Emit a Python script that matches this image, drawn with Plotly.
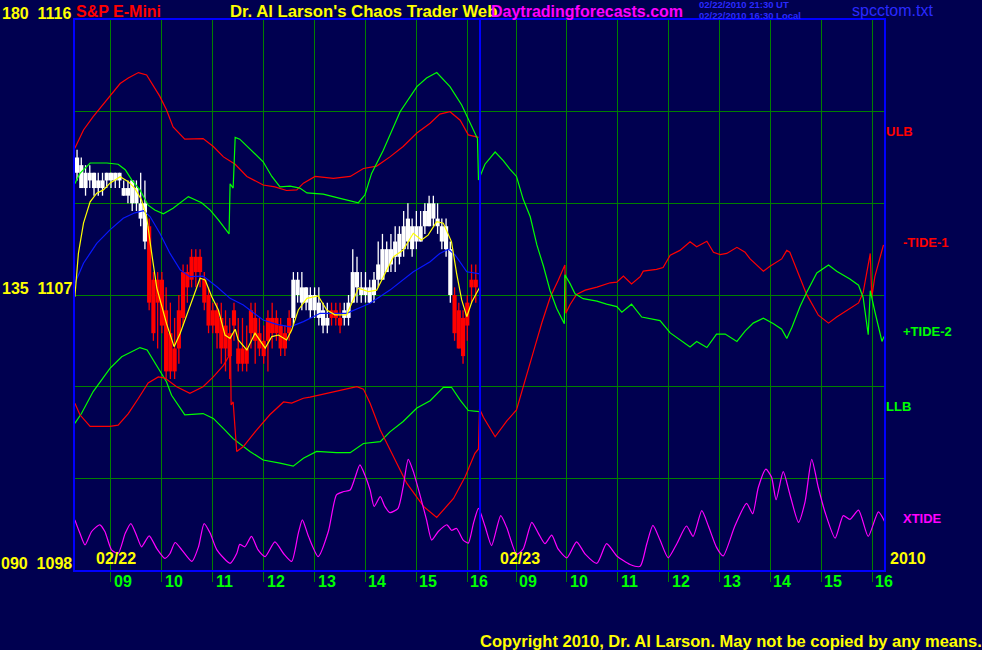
import plotly.graph_objects as go

# ---------------- axes / layout constants ----------------
DAY2_OFFSET = 7.957          # display offset of day-2 clock hours
SESSION_END = 16.25          # day-1 session end (blue separator)
X_RANGE = [8.293, 24.187]
PRICE_RANGE = [1098, 1116]
OSC_RANGE = [90, 180]
HOURS = [9, 10, 11, 12, 13, 14, 15, 16]
HOUR_LABELS = ["09", "10", "11", "12", "13", "14", "15", "16"]
PRICE_GRID = [1101, 1104, 1107, 1110, 1113]
LEFT_LABELS = [(180, "180  1116"), (135, "135  1107"), (90, "090  1098")]

# ---------------- price bars (5 minute, day 1) ----------------
BAR_START = 8 + 20 / 60
BAR_MINUTES = 5
OPEN = [1111.0, 1110.5, 1110.5, 1110.75, 1110.5, 1110.5, 1110.5, 1110.75, 1110.75, 1110.75,
        1110.75, 1110.25, 1110.25, 1110.0, 1110.0, 1109.5, 1108.75, 1109.25, 1107.5, 1107.5,
        1107.5, 1106.5, 1105.75, 1105.25, 1106.5, 1107.75, 1107.75, 1108.25, 1108.25, 1108.25,
        1107.5, 1107.0, 1106.5, 1106.5, 1106.25, 1106.0, 1105.75, 1106.5, 1105.25, 1105.25,
        1105.25, 1106.5, 1106.25, 1105.75, 1105.5, 1106.25, 1106.25, 1106.25, 1106.0, 1105.75,
        1106.25, 1106.25, 1107.0, 1106.75, 1106.75, 1106.5, 1106.5, 1106.25, 1106.0, 1106.0,
        1106.5, 1106.5, 1106.25, 1106.25, 1106.25, 1106.75, 1107.25, 1107.0, 1107.0, 1106.75,
        1107.0, 1107.5, 1107.5, 1107.75, 1108.0, 1108.25, 1108.25, 1108.5, 1108.75, 1108.5,
        1108.75, 1108.75, 1109.25, 1109.25, 1109.5, 1109.25, 1108.75, 1108.5, 1107.0, 1107.0,
        1106.5, 1106.25, 1106.75, 1107.5, 1107.5]
HIGH = [1111.75, 1111.5, 1111.25, 1111.25, 1111.0, 1111.0, 1111.0, 1111.0, 1111.0, 1111.0,
        1111.0, 1110.75, 1110.75, 1110.75, 1110.75, 1111.0, 1110.75, 1109.5, 1107.75, 1107.75,
        1107.75, 1107.25, 1106.75, 1106.25, 1107.0, 1108.0, 1108.0, 1108.5, 1108.5, 1108.5,
        1107.75, 1107.25, 1106.75, 1106.75, 1106.75, 1106.5, 1106.25, 1106.75, 1106.25, 1106.25,
        1106.0, 1106.75, 1106.75, 1106.25, 1106.0, 1106.5, 1106.75, 1106.5, 1106.25, 1106.0,
        1106.5, 1107.75, 1107.75, 1107.75, 1107.25, 1107.25, 1107.25, 1107.25, 1106.75, 1106.75,
        1106.75, 1106.75, 1106.75, 1106.75, 1107.0, 1108.5, 1108.25, 1107.75, 1107.75, 1107.5,
        1107.75, 1108.75, 1109.0, 1108.75, 1109.0, 1109.25, 1109.25, 1109.75, 1110.0, 1109.5,
        1109.75, 1109.75, 1110.0, 1110.25, 1110.25, 1110.0, 1109.5, 1109.5, 1108.75, 1107.25,
        1106.75, 1106.5, 1107.0, 1108.0, 1108.0]
LOW = [1110.75, 1110.5, 1110.25, 1110.5, 1110.25, 1110.25, 1110.25, 1110.5, 1110.5, 1110.5,
       1110.5, 1110.25, 1110.0, 1109.75, 1109.75, 1109.25, 1108.5, 1106.5, 1105.5, 1105.25,
       1105.75, 1104.25, 1104.25, 1104.25, 1104.75, 1106.0, 1106.75, 1107.25, 1107.25, 1107.25,
       1106.5, 1105.75, 1105.75, 1105.25, 1104.75, 1104.5, 1104.25, 1105.5, 1104.5, 1104.5,
       1104.5, 1105.25, 1104.75, 1105.0, 1104.75, 1104.5, 1105.25, 1105.5, 1105.0, 1105.0,
       1105.5, 1106.0, 1106.75, 1106.5, 1106.5, 1106.25, 1106.25, 1106.0, 1105.75, 1105.75,
       1106.0, 1106.0, 1105.75, 1106.0, 1106.0, 1106.75, 1106.75, 1106.75, 1106.75, 1106.75,
       1106.75, 1107.25, 1107.5, 1107.75, 1107.75, 1107.75, 1108.0, 1108.25, 1108.5, 1108.25,
       1108.5, 1108.75, 1109.0, 1109.25, 1109.25, 1109.0, 1108.5, 1108.25, 1106.75, 1105.5,
       1105.25, 1104.75, 1105.5, 1106.75, 1106.75]
CLOSE = [1111.5, 1111.25, 1111.0, 1111.0, 1111.0, 1110.75, 1110.75, 1111.0, 1111.0, 1111.0,
         1111.0, 1110.5, 1110.5, 1110.75, 1110.5, 1110.0, 1110.0, 1106.75, 1105.75, 1106.75,
         1106.0, 1104.5, 1104.5, 1104.5, 1105.25, 1106.25, 1107.25, 1107.5, 1107.75, 1107.75,
         1106.75, 1106.0, 1106.0, 1105.75, 1105.25, 1105.25, 1105.0, 1106.0, 1104.75, 1104.75,
         1104.75, 1105.75, 1105.5, 1105.25, 1105.0, 1105.5, 1105.75, 1105.75, 1105.25, 1105.25,
         1105.75, 1107.5, 1107.5, 1107.25, 1107.25, 1107.0, 1107.0, 1106.75, 1106.5, 1106.25,
         1106.25, 1106.25, 1106.0, 1106.5, 1106.75, 1107.75, 1107.75, 1107.25, 1107.25, 1107.25,
         1107.5, 1108.0, 1108.5, 1108.5, 1108.5, 1108.75, 1109.0, 1109.25, 1109.5, 1109.25,
         1109.25, 1109.25, 1109.75, 1110.0, 1110.0, 1109.5, 1109.25, 1109.25, 1108.5, 1105.75,
         1105.25, 1105.0, 1106.0, 1107.25, 1107.25]

# ---------------- averages (price units, day 1) ----------------
BLUE_T = [8.29, 8.46, 8.72, 8.98, 9.24, 9.47, 9.64, 9.77, 9.96, 10.16, 10.36, 10.55, 10.81, 11.08,
          11.34, 11.60, 11.99, 12.26, 12.52, 12.78, 13.11, 13.63, 14.09, 14.48, 14.94, 15.27,
          15.46, 15.63, 15.76, 15.99, 16.25]
BLUE_V = [1107.38, 1108.04, 1108.69, 1109.13, 1109.51, 1109.69, 1109.76, 1109.56, 1109.02,
          1108.36, 1107.82, 1107.60, 1107.62, 1107.27, 1106.89, 1106.67, 1106.18, 1106.04,
          1105.96, 1106.13, 1106.40, 1106.40, 1106.73, 1107.16, 1107.76, 1108.09, 1108.36,
          1108.50, 1108.31, 1107.76, 1107.69]
YELLOW_T = [8.29, 8.36, 8.46, 8.59, 8.72, 8.85, 8.98, 9.18, 9.34, 9.47, 9.60, 9.70, 9.80, 9.90,
            10.09, 10.24, 10.36, 10.55, 10.75, 10.85, 10.98, 11.11, 11.24, 11.34, 11.44, 11.50,
            11.67, 11.83, 12.03, 12.16, 12.29, 12.45, 12.55, 12.68, 12.85, 13.07, 13.24, 13.40,
            13.63, 13.86, 14.06, 14.22, 14.38, 14.55, 14.74, 14.94, 15.10, 15.23, 15.40, 15.53,
            15.69, 15.79, 15.89, 15.99, 16.09, 16.25]
YELLOW_V = [1106.94, 1108.36, 1109.35, 1110.05, 1110.33, 1110.44, 1110.66, 1110.87, 1110.71,
            1110.49, 1110.11, 1109.56, 1108.36, 1107.23, 1106.07, 1105.31, 1105.75, 1106.62,
            1107.55, 1107.49, 1106.94, 1106.51, 1105.69, 1105.58, 1105.88, 1105.53, 1105.20,
            1105.75, 1105.26, 1105.64, 1105.69, 1105.53, 1105.85, 1106.51, 1106.89, 1106.97,
            1106.51, 1106.35, 1106.35, 1107.22, 1107.11, 1107.16, 1107.71, 1108.25, 1108.47,
            1109.02, 1108.80, 1108.96, 1109.40, 1109.35, 1108.74, 1107.71, 1106.84, 1106.29,
            1106.78, 1107.27]

# ---------------- cycle lines (oscillator units 90..180) ----------------
ULB_T1 = [8.29, 8.46, 8.65, 8.92, 9.18, 9.34, 9.54, 9.70, 9.80, 9.96, 10.09, 10.22, 10.45, 10.62,
          10.81, 11.01, 11.21, 11.44, 11.67, 11.99, 12.22, 12.45, 12.65, 12.78, 13.01, 13.37,
          13.70, 13.96, 14.22, 14.48, 14.74, 15.01, 15.27, 15.46, 15.66, 15.86, 16.02, 16.22]
ULB_V1 = [159.0, 162.0, 164.2, 166.9, 169.6, 170.5, 171.4, 171.0, 169.6, 167.5, 165.3, 162.5,
          160.5, 160.5, 160.6, 159.3, 157.6, 156.4, 154.4, 153.0, 152.7, 152.1, 152.2, 153.3,
          154.4, 154.1, 154.4, 155.7, 156.1, 157.6, 159.3, 161.5, 163.1, 164.6, 165.0, 163.6,
          161.2, 160.8]

LLB_T1 = [8.29, 8.42, 8.65, 8.98, 9.21, 9.41, 9.57, 9.71, 9.90, 10.09, 10.19, 10.45, 10.81, 11.01,
          11.24, 11.40, 11.73, 11.99, 12.32, 12.58, 12.78, 13.04, 13.43, 13.70, 13.96, 14.29,
          14.48, 14.74, 15.01, 15.27, 15.53, 15.69, 15.86, 16.02, 16.24]
LLB_V1 = [114.0, 115.6, 119.2, 123.0, 124.9, 125.7, 126.4, 126.0, 123.3, 120.8, 118.6, 115.4,
          115.6, 114.8, 112.9, 111.5, 109.4, 108.0, 107.5, 107.0, 108.3, 109.4, 109.2, 109.2,
          110.7, 111.0, 112.6, 114.3, 116.5, 117.7, 119.9, 119.9, 117.8, 116.1, 115.9]

TIDE1_T1 = [8.29, 8.39, 8.59, 8.98, 9.14, 9.34, 9.54, 9.73, 9.93, 10.06, 10.29, 10.55, 10.81,
            11.01, 11.21, 11.31, 11.35, 11.36, 11.40, 11.47, 11.60, 11.86, 12.12, 12.39, 12.55,
            12.78, 12.91, 13.30, 13.83, 13.96, 14.09, 14.29, 14.55, 14.81, 15.14, 15.40, 15.73,
            15.96, 16.15, 16.22, 16.24]
TIDE1_V1 = [117.3, 115.4, 113.5, 113.5, 113.7, 115.6, 118.1, 120.6, 121.6, 121.4, 120.0, 118.9,
            120.0, 121.6, 123.5, 124.9, 125.2, 117.0, 117.5, 109.4, 110.2, 112.9, 115.4, 117.5,
            117.3, 118.1, 118.3, 119.0, 120.0, 119.6, 117.3, 112.9, 108.5, 104.2, 100.4, 98.6,
            101.7, 105.3, 109.1, 109.8, 116.4]
TIDE1_T2 = [8.36, 8.59, 8.82, 9.01, 9.11, 9.24, 9.37, 9.51, 9.67, 9.83, 9.96, 9.98, 10.06, 10.19,
            10.36, 10.59, 10.85, 10.98, 11.11, 11.27, 11.44, 11.50, 11.76, 11.89, 12.03, 12.22,
            12.42, 12.55, 12.75, 12.88, 13.01, 13.14, 13.34, 13.50, 13.60, 13.86, 13.99, 14.22,
            14.32, 14.38, 14.52, 14.71, 14.94, 15.14, 15.30, 15.50, 15.73, 15.82, 15.96, 15.99,
            16.05, 16.22]
TIDE1_V2 = [115.0, 111.8, 114.4, 116.2, 119.0, 122.5, 126.5, 130.5, 134.6, 137.4, 139.9, 132.0,
            133.4, 135.1, 135.8, 136.3, 137.0, 137.1, 138.1, 136.8, 138.0, 138.9, 139.2, 139.5,
            141.5, 142.3, 143.7, 142.9, 143.8, 142.0, 141.6, 141.8, 142.8, 142.0, 140.9, 138.9,
            139.7, 140.9, 142.3, 142.0, 139.2, 135.1, 131.7, 130.4, 131.4, 132.5, 133.7, 135.4,
            141.8, 134.6, 138.0, 143.2]

TIDE2_T1 = [8.29, 8.39, 8.59, 8.92, 9.14, 9.28, 9.41, 9.57, 9.73, 9.86, 10.03, 10.22, 10.52,
            10.78, 10.95, 11.11, 11.32, 11.34, 11.40, 11.44, 11.53, 11.76, 11.99, 12.16, 12.32,
            12.52, 12.71, 12.85, 13.17, 13.50, 13.86, 13.99, 14.12, 14.35, 14.68, 15.01, 15.20,
            15.40, 15.66, 15.89, 16.09, 16.20, 16.22]
TIDE2_V1 = [153.2, 154.9, 156.6, 156.6, 156.4, 155.5, 153.8, 152.2, 149.7, 148.9, 148.3, 149.2,
            151.1, 150.1, 148.9, 147.3, 145.0, 153.2, 152.5, 160.8, 160.5, 158.7, 156.8, 154.4,
            152.7, 152.8, 152.5, 151.7, 151.5, 150.8, 150.1, 151.4, 154.9, 158.7, 165.0, 169.1,
            170.5, 171.4, 169.1, 166.1, 162.5, 160.6, 153.8]
TIDE2_T2 = [8.39, 8.59, 8.75, 8.88, 9.01, 9.14, 9.28, 9.41, 9.54, 9.67, 9.80, 9.95, 9.96, 10.06,
            10.16, 10.32, 10.59, 10.78, 10.98, 11.08, 11.27, 11.47, 11.83, 12.03, 12.22, 12.42,
            12.55, 12.75, 12.94, 13.11, 13.34, 13.50, 13.66, 13.86, 14.06, 14.22, 14.32, 14.42,
            14.58, 14.71, 14.91, 15.14, 15.30, 15.56, 15.73, 15.82, 15.92, 15.96, 16.05, 16.19,
            16.23]
TIDE2_V2 = [156.4, 158.4, 157.0, 155.6, 154.4, 150.7, 147.8, 143.2, 139.7, 135.7, 132.8, 130.3,
            138.3, 136.9, 135.2, 134.4, 134.0, 133.5, 133.1, 132.2, 133.5, 131.4, 130.8, 128.8,
            127.7, 126.5, 127.4, 126.4, 128.6, 128.6, 127.4, 129.1, 130.4, 131.2, 130.3, 129.4,
            127.9, 129.7, 133.1, 135.4, 138.6, 139.9, 138.9, 137.6, 136.6, 134.6, 128.5, 135.7,
            132.3, 127.4, 128.2]

XTIDE_T1 = [8.29, 8.39, 8.49, 8.62, 8.78, 8.88, 9.01, 9.14, 9.28, 9.39, 9.51, 9.60, 9.75, 9.90,
            10.06, 10.16, 10.26, 10.39, 10.59, 10.72, 10.83, 10.95, 11.08, 11.34, 11.47, 11.53,
            11.63, 11.76, 11.89, 12.03, 12.22, 12.39, 12.55, 12.68, 12.76, 12.88, 13.07, 13.27,
            13.43, 13.56, 13.70, 13.79, 13.89, 13.99, 14.09, 14.17, 14.29, 14.38, 14.48, 14.64,
            14.74, 14.84, 14.94, 15.07, 15.20, 15.30, 15.43, 15.60, 15.69, 15.79, 15.92, 16.02,
            16.12, 16.22]
XTIDE_V1 = [98.2, 96.0, 94.1, 96.3, 97.4, 96.3, 93.3, 92.7, 96.0, 97.6, 95.5, 93.8, 95.6, 93.5,
            91.9, 92.7, 94.5, 93.3, 91.4, 93.8, 97.6, 96.0, 93.3, 91.1, 92.7, 94.2, 93.8, 95.5,
            93.3, 92.2, 94.6, 92.7, 91.4, 96.0, 98.2, 95.5, 92.2, 96.3, 102.3, 102.8, 103.1,
            105.0, 107.2, 105.5, 103.1, 100.4, 102.0, 100.4, 99.4, 100.1, 103.6, 108.1, 106.1,
            102.3, 98.2, 94.9, 96.3, 97.4, 96.5, 96.8, 94.9, 94.4, 97.6, 100.1]
XTIDE_T2 = [8.39, 8.52, 8.70, 8.82, 9.01, 9.14, 9.31, 9.44, 9.57, 9.70, 9.83, 10.00, 10.19, 10.36,
            10.59, 10.78, 10.98, 11.24, 11.44, 11.57, 11.69, 11.83, 11.99, 12.16, 12.35, 12.48,
            12.65, 12.78, 12.94, 13.07, 13.30, 13.53, 13.65, 13.76, 13.91, 14.02, 14.11, 14.25,
            14.38, 14.55, 14.68, 14.81, 14.94, 15.07, 15.27, 15.43, 15.56, 15.73, 15.92, 16.12,
            16.25]
XTIDE_V2 = [97.2, 94.0, 98.9, 96.9, 92.6, 93.4, 97.8, 96.0, 94.3, 95.7, 93.4, 92.0, 94.6, 92.6,
            91.1, 94.3, 92.3, 90.9, 90.6, 94.3, 97.3, 94.9, 92.0, 94.3, 97.2, 95.5, 99.7, 97.2,
            93.7, 92.3, 97.2, 100.9, 99.2, 103.5, 106.5, 105.2, 101.5, 106.1, 102.4, 97.8, 101.2,
            108.1, 103.5, 99.5, 95.2, 98.9, 98.3, 99.8, 95.5, 99.5, 97.8]

# ---------------- colours / fonts ----------------
BG = "#000050"
FRAME = "#0000ff"
GRID = "#008000"
RED = "#ff0000"
GREEN = "#00ff00"
MAGENTA = "#ff00ff"
YELLOW = "#ffff00"
MA_BLUE = "#0818ff"
TXT_BLUE = "#2a2aff"
FONT = "Liberation Sans, Arial, sans-serif"


def day2(ts):
    return [t + DAY2_OFFSET for t in ts]


fig = go.Figure()

# ---- price bars ----
bar_t = [BAR_START + i * BAR_MINUTES / 60 for i in range(len(OPEN))]
for up, col in ((True, "#ffffff"), (False, RED)):
    idx = [i for i in range(len(OPEN)) if (CLOSE[i] >= OPEN[i]) == up]
    wx, wy = [], []
    for i in idx:
        wx += [bar_t[i], bar_t[i], None]
        wy += [LOW[i], HIGH[i], None]
    fig.add_trace(go.Scatter(x=wx, y=wy, mode="lines", line=dict(color=col, width=1.3),
                             yaxis="y", hoverinfo="skip"))
    fig.add_trace(go.Bar(x=[bar_t[i] for i in idx],
                         base=[min(OPEN[i], CLOSE[i]) for i in idx],
                         y=[abs(CLOSE[i] - OPEN[i]) for i in idx],
                         width=0.082, marker=dict(color=col, line=dict(width=0)),
                         yaxis="y", hoverinfo="skip"))

fig.add_trace(go.Scatter(x=BLUE_T, y=BLUE_V, mode="lines", line=dict(color=MA_BLUE, width=1.2),
                         yaxis="y"))
fig.add_trace(go.Scatter(x=YELLOW_T, y=YELLOW_V, mode="lines", line=dict(color=YELLOW, width=1.2),
                         yaxis="y"))

# ---- cycle lines ----
fig.add_trace(go.Scatter(x=ULB_T1, y=ULB_V1, mode="lines", line=dict(color=RED, width=1.2),
                         yaxis="y2"))
fig.add_trace(go.Scatter(x=LLB_T1, y=LLB_V1, mode="lines", line=dict(color=GREEN, width=1.2),
                         yaxis="y2"))
fig.add_trace(go.Scatter(x=TIDE1_T1 + day2(TIDE1_T2), y=TIDE1_V1 + TIDE1_V2, mode="lines",
                         line=dict(color=RED, width=1.2), yaxis="y2"))
fig.add_trace(go.Scatter(x=TIDE2_T1 + day2(TIDE2_T2), y=TIDE2_V1 + TIDE2_V2, mode="lines",
                         line=dict(color=GREEN, width=1.2), yaxis="y2"))
fig.add_trace(go.Scatter(x=XTIDE_T1 + day2(XTIDE_T2), y=XTIDE_V1 + XTIDE_V2, mode="lines",
                         line=dict(color=MAGENTA, width=1.2, shape="spline", smoothing=0.6),
                         yaxis="y2"))

# ---- annotations ----
ann = []


def txt(text, x, y, color, size, xanchor="left", yanchor="middle", bold=True, **kw):
    t = f"<b>{text}</b>" if bold else text
    d = dict(text=t, x=x, y=y, xref=kw.pop("xref", "paper"), yref=kw.pop("yref", "paper"),
             xanchor=xanchor, yanchor=yanchor, showarrow=False,
             font=dict(family=FONT, size=size, color=color))
    d.update(kw)
    ann.append(d)


def px_x(p):
    return (p - 75) / 809


def px_y(p):
    return (570 - p) / 550


for v, label in LEFT_LABELS:
    txt(label, px_x(74), v, YELLOW, 16, xanchor="right", yanchor="bottom", yref="y2", yshift=-4)

all_ticks = HOURS + day2(HOURS)
for t, lab in zip(all_ticks, HOUR_LABELS + HOUR_LABELS):
    txt(lab, t, px_y(581), GREEN, 16, xref="x", xshift=1)

txt("02/22", px_x(94), px_y(558), YELLOW, 16)
txt("02/23", px_x(498), px_y(558), YELLOW, 16)
txt("2010", px_x(888), px_y(558), YELLOW, 16)

txt("S&amp;P E-Mini", px_x(74), px_y(11), RED, 16)
txt("Dr. Al Larson's Chaos Trader Web", px_x(228), px_y(11), YELLOW, 16.7)
txt("Daytradingforecasts.com", px_x(489), px_y(11), MAGENTA, 16)
# two tight lines of small info text, placed as one block with compact line spacing
txt("02/22/2010 21:30 UT", px_x(698), px_y(5), TXT_BLUE, 9.5, borderpad=0)
txt("02/22/2010 16:30 Local", px_x(698), px_y(15), TXT_BLUE, 9.5, borderpad=0)
txt("spcctom.txt", px_x(850), px_y(10), TXT_BLUE, 16, bold=False)

txt("ULB", px_x(884), px_y(131), RED, 13)
txt("-TIDE-1", px_x(901), px_y(243), RED, 13)
txt("+TIDE-2", px_x(901), px_y(331), GREEN, 13)
txt("LLB", px_x(884), px_y(406), GREEN, 13)
txt("XTIDE", px_x(901), px_y(518), MAGENTA, 13)

txt("Copyright 2010, Dr. Al Larson. May not be copied by any means.", px_x(984), px_y(641),
    YELLOW, 16.5, xanchor="right")

fig.update_layout(
    width=982, height=650, autosize=False,
    margin=dict(l=75, r=98, t=20, b=80, pad=0),
    paper_bgcolor=BG, plot_bgcolor=BG,
    showlegend=False, hovermode=False, barmode="overlay",
    xaxis=dict(range=X_RANGE, tickvals=all_ticks, showticklabels=False, ticks="outside",
               ticklen=10, tickcolor=GRID, tickwidth=1, showgrid=True, gridcolor=GRID,
               gridwidth=1, zeroline=False, showline=True, mirror=True, linecolor=FRAME,
               linewidth=2),
    yaxis=dict(range=PRICE_RANGE, tickvals=PRICE_GRID, showticklabels=False, ticks="",
               showgrid=True, gridcolor=GRID, gridwidth=1, zeroline=False, showline=True,
               mirror=True, linecolor=FRAME, linewidth=2),
    yaxis2=dict(range=OSC_RANGE, overlaying="y", side="right", showticklabels=False,
                ticks="", showgrid=False, zeroline=False, showline=False),
    shapes=[dict(type="line", xref="x", yref="paper", x0=SESSION_END, x1=SESSION_END,
                 y0=0, y1=1, line=dict(color=FRAME, width=2), layer="above")],
    annotations=ann,
)

fig.write_html("out.html", config={"displayModeBar": False, "staticPlot": True},
               post_script="document.body.style.margin='0';"
                           "document.body.style.overflow='hidden';")
